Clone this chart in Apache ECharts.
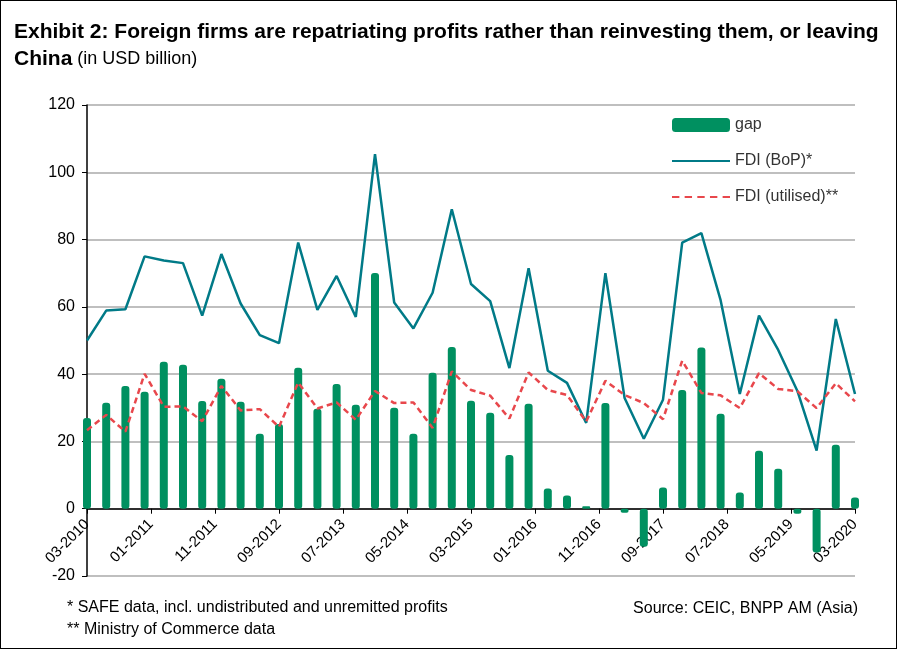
<!DOCTYPE html>
<html>
<head>
<meta charset="utf-8">
<script src="https://cdn.jsdelivr.net/npm/echarts@6/dist/echarts.min.js"></script>
<style>
html,body{margin:0;padding:0;background:#fff;}
#wrap{position:absolute;left:0;top:0;width:895px;height:647px;border:1px solid #000;}
#main{width:897px;height:649px;}
</style>
</head>
<body>
<div id="wrap"></div>
<div id="main"></div>
<script>
// quarterly data, 2010Q1 .. 2020Q1
var tickLabels = ["03-2010","01-2011","11-2011","09-2012","07-2013","05-2014","03-2015","01-2016","11-2016","09-2017","07-2018","05-2019","03-2020"]
var gap = [27,31.5,36.5,34.8,43.7,42.8,32,38.6,31.8,22.3,25.2,41.9,29.7,37.1,30.9,70.1,30,22.3,40.4,48.1,32.1,
           28.5,16,31.2,6,3.9,0.7,31.4,-1.2,-11.3,6.3,35.3,47.9,28.2,4.8,17.2,11.9,-1.5,-13,19,3.3]
var fdiBop = [50,58.9,59.3,75,73.8,73,57.4,75.7,61,51.6,49.2,79.1,59.1,69.2,57,105.4,61.3,53.6,64.2,89,66.8,
              61.7,41.8,71.5,41,37.4,25.5,70,32.9,20.8,32.4,79.1,81.9,62,34.1,57.4,47.2,35,17.3,56.4,34.1]
var fdiUtil = [23.3,27.9,22.9,40.1,30.3,30.4,26,36.5,29.2,29.6,24.3,37.5,29.8,31.6,26.4,35,31.4,31.6,24,40.8,35.3,
               33.6,26.8,40.5,35.3,33.8,25.9,38,33.8,31.4,26.6,44,34.4,33.7,29.9,40.3,35.6,34.9,29.9,37.3,31.9]

// x position in months since 03-2010
function pts(arr){ return arr.map(function(v,i){ return [i*3, v] }) }

var chart = echarts.init(document.getElementById("main"))
var font = "Liberation Sans"
chart.setOption({
    animation:false,
    textStyle:{fontFamily:font},
    title:[{
        text:"{b|Exhibit 2: Foreign firms are repatriating profits rather than reinvesting them, or leaving}\n{b|China} {n|(in USD billion)}",
        left:9, top:14,
        textStyle:{rich:{
            b:{fontFamily:font,fontSize:21,fontWeight:"bold",color:"#000",lineHeight:27},
            n:{fontFamily:font,fontSize:18,fontWeight:"normal",color:"#000",lineHeight:27}
        }}
    },{
        text:"* SAFE data, incl. undistributed and unremitted profits\n** Ministry of Commerce data",
        left:62, top:592,
        textStyle:{fontFamily:font,fontSize:16,fontWeight:"normal",color:"#000",lineHeight:22}
    },{
        text:"Source: CEIC, BNPP AM (Asia)",
        right:34, top:596,
        textStyle:{fontFamily:font,fontSize:16,fontWeight:"normal",color:"#000"}
    }],
    legend:{
        orient:"vertical", left:667, top:112, itemWidth:58, itemHeight:14, itemGap:20,
        textStyle:{fontFamily:font,fontSize:16,color:"#333"},
        data:[
            {name:"gap"},
            {name:"FDI (BoP)*", icon:"path://M0 6H58V8H0Z"},
            {name:"FDI (utilised)**", icon:"path://M0 6H7V8H0ZM12 6H19V8H12ZM24 6H31V8H24ZM36 6H43V8H36ZM48 6H55V8H48Z"}
        ]
    },
    grid:{left:87, right:42, top:105, bottom:73},
    xAxis:{
        type:"value", min:0, max:120, interval:10,
        axisLine:{onZero:true,lineStyle:{color:"#000",width:1.5}},
        axisTick:{show:true,length:5,lineStyle:{color:"#000"}},
        splitLine:{show:false},
        axisLabel:{rotate:45, fontSize:15, color:"#000", margin:-54,
            formatter:function(v){ return tickLabels[Math.round(v/10)] || "" }}
    },
    yAxis:{
        type:"value", min:-20, max:120, interval:20,
        axisLine:{show:true,lineStyle:{color:"#000",width:1.5}},
        axisTick:{show:true,length:5,inside:false,lineStyle:{color:"#000"}},
        splitLine:{lineStyle:{color:"#bfbfbf",width:2}},
        axisLabel:{fontSize:16,color:"#000",margin:12}
    },
    series:[{
        name:"gap", type:"bar", data:pts(gap), barWidth:8, clip:false,
        itemStyle:{color:"#009060",borderRadius:3}
    },{
        name:"FDI (BoP)*", type:"line", data:pts(fdiBop), symbol:"none", clip:false,
        lineStyle:{color:"#007A87",width:2.5}, itemStyle:{color:"#007A87"}
    },{
        name:"FDI (utilised)**", type:"line", data:pts(fdiUtil), symbol:"none", clip:false,
        lineStyle:{color:"#E8474C",width:2.5,type:[6,4]}, itemStyle:{color:"#E8474C"}
    }]
})
</script>
</body>
</html>
